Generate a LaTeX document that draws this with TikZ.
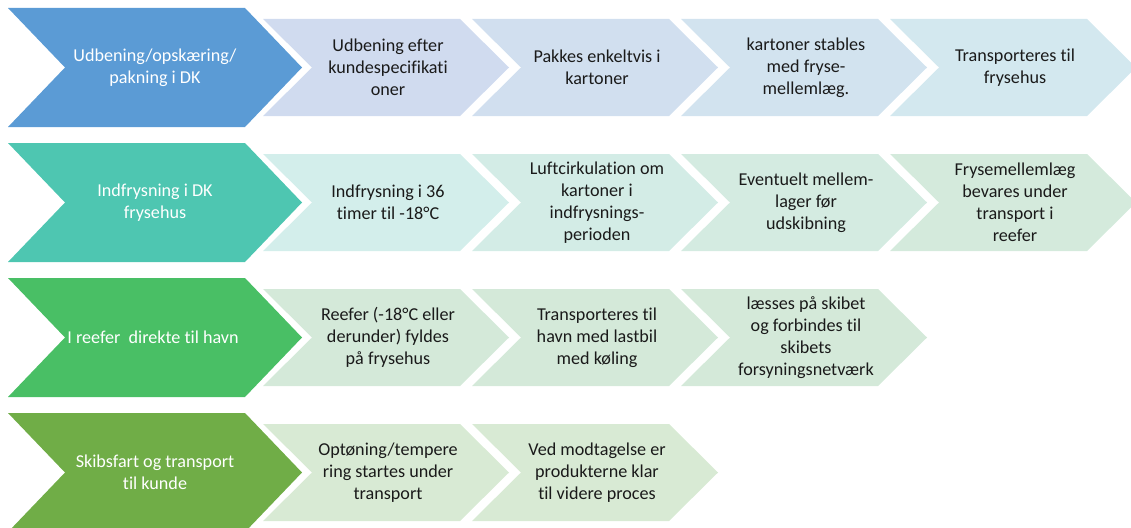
\documentclass[tikz,border=0pt]{standalone}
\usepackage{fontspec}
\setmainfont{Carlito}[Ligatures=NoCommon]
\definecolor{bigA}{HTML}{5B9BD5}
\definecolor{bigB}{HTML}{4EC6B1}
\definecolor{bigC}{HTML}{49BF65}
\definecolor{bigD}{HTML}{70AD47}
\definecolor{smA1}{HTML}{D0DBEF}
\definecolor{smA2}{HTML}{D1DFEF}
\definecolor{smA3}{HTML}{D2E3EF}
\definecolor{smA4}{HTML}{D3E8EF}
\definecolor{smB1}{HTML}{D3EEEB}
\definecolor{smB2}{HTML}{D3ECE6}
\definecolor{smB3}{HTML}{D4EBE1}
\definecolor{smB4}{HTML}{D4EADC}
\definecolor{smC}{HTML}{D4E9D9}
\definecolor{smD}{HTML}{D8EAD4}
\definecolor{txtdark}{HTML}{1A1A1A}
\tikzset{
  x=0.75pt, y=-0.75pt,
  txt/.style={align=center, font=\fontsize{13.6}{16.5}\selectfont, text=txtdark, inner sep=0pt},
  bigtxt/.style={txt, text=white},
}
\newcommand\bigchev[2]{% top y, colour
  \fill[#2] (8,#1) -- (245,#1) -- (302,#1+59.5) -- (245,#1+119) -- (8,#1+119) -- (65,#1+59.5) -- cycle;}
\newcommand\smallchev[3]{% left x, row top y, colour
  \fill[#3] (#1,#2+11) -- (#1+197,#2+11) -- (#1+246,#2+59.5) -- (#1+197,#2+108) -- (#1,#2+108) -- (#1+49,#2+59.5) -- cycle;}
\begin{document}
\begin{tikzpicture}
\useasboundingbox (0,0) rectangle (1131,528);
\begin{scope}
\clip (0,0) rectangle (1131,528);
% row 1
\bigchev{8}{bigA}
\smallchev{263}{8}{smA1}
\smallchev{472}{8}{smA2}
\smallchev{681}{8}{smA3}
\smallchev{890}{8}{smA4}
% row 2
\bigchev{143}{bigB}
\smallchev{263}{143}{smB1}
\smallchev{472}{143}{smB2}
\smallchev{681}{143}{smB3}
\smallchev{890}{143}{smB4}
% row 3
\bigchev{278}{bigC}
\smallchev{263}{278}{smC}
\smallchev{472}{278}{smC}
\smallchev{681}{278}{smC}
% row 4
\bigchev{413}{bigD}
\smallchev{263}{413}{smD}
\smallchev{472}{413}{smD}
\end{scope}
% texts row 1
\node[bigtxt] (r1h) at (155,67.5) {Udbening/opskæring/\\pakning i DK};
\node[txt] (r1a) at (388,67.5) {Udbening efter\\kundespecifikati\\oner};
\node[txt] (r1b) at (597,67.5) {Pakkes enkeltvis i\\kartoner};
\node[txt] (r1c) at (806,67.5) {kartoner stables\\med fryse-\\mellemlæg.};
\node[txt] (r1d) at (1015,67.5) {Transporteres til\\frysehus};
% texts row 2
\node[bigtxt] (r2h) at (155,202.5) {Indfrysning i DK\\frysehus};
\node[txt] (r2a) at (388,202.5) {Indfrysning i 36\\timer til -18°C};
\node[txt] (r2b) at (597,202.5) {Luftcirkulation om\\kartoner i\\indfrysnings-\\perioden};
\node[txt] (r2c) at (806,202.5) {Eventuelt mellem-\\lager før\\udskibning};
\node[txt] (r2d) at (1015,202.5) {Frysemellemlæg\\bevares under\\transport i\\reefer};
% texts row 3
\node[bigtxt] (r3h) at (153,337.5) {I reefer\ \ direkte til havn};
\node[txt] (r3a) at (388,337.5) {Reefer (-18°C eller\\derunder) fyldes\\på frysehus};
\node[txt] (r3b) at (597,337.5) {Transporteres til\\havn med lastbil\\med køling};
\node[txt] (r3c) at (806,337.5) {læsses på skibet\\og forbindes til\\skibets\\forsyningsnetværk};
% texts row 4
\node[bigtxt] (r4h) at (155,472.5) {Skibsfart og transport\\til kunde};
\node[txt] (r4a) at (388,472.5) {Optøning/tempere\\ring startes under\\transport};
\node[txt] (r4b) at (597,472.5) {Ved modtagelse er\\produkterne klar\\til videre proces};
\end{tikzpicture}
\end{document}
